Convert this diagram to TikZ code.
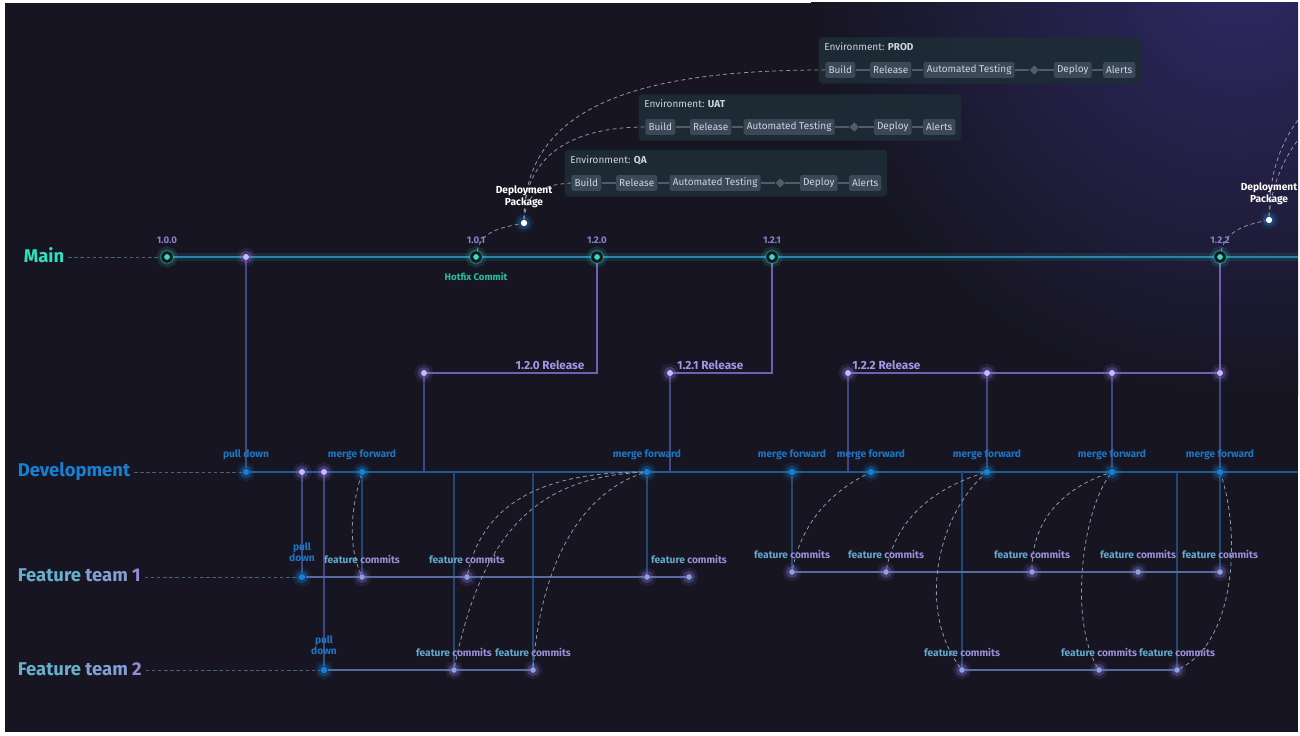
\documentclass[tikz,border=0pt]{standalone}
\usepackage{fontspec}
\setmainfont{Fira Sans}
\usetikzlibrary{positioning,calc,fit,backgrounds,shapes.geometric}

\definecolor{bgdark}{RGB}{22,21,33}
\definecolor{glowpurple}{RGB}{46,41,100}
\definecolor{mainteal}{RGB}{46,224,192}
\definecolor{mainline}{RGB}{38,134,168}
\definecolor{verpurple}{RGB}{140,130,205}
\definecolor{relpurple}{RGB}{112,96,178}
\definecolor{reldotglow}{RGB}{140,115,225}
\definecolor{relcore}{RGB}{200,185,255}
\definecolor{rellabel}{RGB}{165,150,232}
\definecolor{relstem}{RGB}{62,72,132}
\definecolor{devblue}{RGB}{24,128,212}
\definecolor{devline}{RGB}{28,92,150}
\definecolor{devstem}{RGB}{34,72,118}
\definecolor{mfblue}{RGB}{28,118,198}
\definecolor{ftline}{RGB}{84,108,160}
\definecolor{ftcore}{RGB}{135,165,220}
\definecolor{fcteal}{RGB}{100,170,205}
\definecolor{fclav}{RGB}{150,145,215}
\definecolor{fnteal}{RGB}{105,175,205}
\definecolor{fnmid}{RGB}{130,160,215}
\definecolor{fnlav}{RGB}{150,140,215}
\definecolor{leader}{RGB}{70,98,125}
\definecolor{dashgray}{RGB}{150,150,168}
\definecolor{envfill}{RGB}{30,44,54}
\definecolor{stepfill}{RGB}{58,72,88}
\definecolor{steptext}{RGB}{205,212,222}
\definecolor{steplink}{RGB}{78,92,108}

\newcommand{\ftname}[1]{{\color{fnteal}Feature} {\color{fnmid}team} {\color{fnlav}#1}}
\newcommand{\featcom}{{\color{fcteal}feature} {\color{fclav}commits}}

\begin{document}
\begin{tikzpicture}[x=0.02cm, y=-0.02cm,
    halo/.style={preaction={draw=#1, line width=7pt, draw opacity=.12},
                 preaction={draw=#1, line width=3.5pt, draw opacity=.3}},
    maindot/.style={circle, inner sep=0pt, minimum size=5pt, fill=mainteal,
                    draw=bgdark, line width=1.5pt, halo=mainteal},
    reldot/.style={circle, inner sep=0pt, minimum size=3.4pt, fill=relcore, halo=reldotglow},
    devdot/.style={circle, inner sep=0pt, minimum size=3.6pt, fill=devblue, halo=devblue},
    ftdot/.style={circle, inner sep=0pt, minimum size=3.2pt, fill=ftcore, halo=reldotglow},
    pkgdot/.style={circle, inner sep=0pt, minimum size=3.6pt, fill=white, halo=devblue},
    branchlbl/.style={font=\fontsize{10.5}{12}\selectfont\bfseries, anchor=west, inner sep=2pt},
    verlbl/.style={font=\fontsize{5.5}{6}\selectfont\bfseries, text=verpurple, inner sep=.5pt},
    rellbl/.style={font=\fontsize{6.7}{8}\selectfont\bfseries, text=rellabel, inner sep=.5pt},
    mflbl/.style={font=\fontsize{5.8}{6.4}\selectfont\bfseries, text=mfblue, inner sep=.5pt, align=center},
    fclbl/.style={font=\fontsize{5.8}{6.4}\selectfont\bfseries, inner sep=.5pt},
    pkglbl/.style={font=\fontsize{5.8}{6.6}\selectfont\bfseries, text=white, align=center, inner sep=.5pt},
    envtitle/.style={font=\fontsize{5.7}{6.5}\selectfont, text=steptext, inner sep=0pt},
    stepbox/.style={font=\fontsize{5.7}{6.5}\selectfont, text=steptext, fill=stepfill,
                    rounded corners=1pt, inner xsep=1.8pt, inner ysep=0pt, minimum height=9pt},
    gate/.style={diamond, fill=steplink, inner sep=0pt, minimum size=5.5pt},
    envbox/.style={fill=envfill, fill opacity=.9, rounded corners=2pt, inner sep=3pt},
    steprule/.style={draw=steplink, line width=1pt},
    mainbranch/.style={draw=mainline, line width=1.6pt,
                       preaction={draw=mainline, line width=4pt, draw opacity=.18}},
    devbranch/.style={draw=devline, line width=1.6pt},
    ftbranch/.style={draw=ftline, line width=1.5pt},
    relbranch/.style={draw=relpurple, line width=1.2pt},
    relvert/.style={draw=relstem, line width=1.1pt},
    devvert/.style={draw=devstem, line width=1.1pt},
    leaderline/.style={draw=leader, line width=.5pt, dash pattern=on 2pt off 1.5pt},
    mergecurve/.style={draw=dashgray, line width=.45pt, dash pattern=on 2.2pt off 1.8pt}
]
\useasboundingbox (0,0) rectangle (1300,736);

% backdrop
\begin{scope}[on background layer]
    \fill[white] (0,0) rectangle (1300,736);
    \fill[bgdark] (5,3) rectangle (1298,732);
    \begin{scope}
        \clip (5,3) rectangle (1298,732);
        \shade[inner color=glowpurple, outer color=bgdark] (1240,-30) circle (430);
    \end{scope}
\end{scope}

% branch names
\node[branchlbl, text=mainteal] (mainlbl) at (20,255) {Main};
\node[branchlbl, text=devblue] (devlbl) at (14,472) {Development};
\node[branchlbl] (ft1lbl) at (14,575) {\ftname{1}};
\node[branchlbl] (ft2lbl) at (14,669.5) {\ftname{2}};

% main
\node[maindot] (m100) at (167,257) {};
\node[reldot] (mpd) at (246,257) {};
\node[maindot] (m101) at (476,257) {};
\node[maindot] (m120) at (597,257) {};
\node[maindot] (m121) at (772,257) {};
\node[maindot] (m122) at (1220,257) {};
\coordinate (mainend) at (1298,257);
\node[verlbl, above=3.5pt of m100] (v100) {1.0.0};
\node[verlbl, above=3.5pt of m101] (v101) {1.0.1};
\node[verlbl, above=3.5pt of m120] (v120) {1.2.0};
\node[verlbl, above=3.5pt of m121] (v121) {1.2.1};
\node[verlbl, above=3.5pt of m122] (v122) {1.2.2};
\node[verlbl, text=mainteal!85!black, below=5pt of m101] (hotfix) {Hotfix Commit};

% deployment packages
\node[pkgdot] (pkg1) at (524,223) {};
\node[pkgdot] (pkg2) at (1269,220) {};
\node[pkglbl, above=6pt of pkg1] (pkg1lbl) {Deployment\\Package};
\node[pkglbl, above=6pt of pkg2] (pkg2lbl) {Deployment\\Package};
\coordinate (exitA) at (1298,120);
\coordinate (exitB) at (1298,140);

% environments
\foreach \e/\envname/\ex/\ey in {qa/QA/565/153, uat/UAT/639/97, prod/PROD/819/40}{
    \node[envtitle, anchor=west] (\e-title) at (\ex+5,\ey+7) {Environment: \textbf{\envname}};
    \node[stepbox, anchor=west] (\e-build) at (\ex+6,\ey+30) {Build};
    \node[stepbox, right=8pt of \e-build] (\e-release) {Release};
    \node[stepbox, right=6.5pt of \e-release] (\e-auto) {Automated Testing};
    \node[gate, right=8pt of \e-auto] (\e-gate) {};
    \node[stepbox, right=8pt of \e-gate] (\e-deploy) {Deploy};
    \node[stepbox, right=6pt of \e-deploy] (\e-alerts) {Alerts};
    \begin{scope}[on background layer]
        \node[envbox, fit=(\e-title)(\e-build)(\e-alerts)] (\e-box) {};
        \draw[steprule] (\e-build) -- (\e-release) -- (\e-auto) -- (\e-gate) -- (\e-deploy) -- (\e-alerts);
    \end{scope}
}

% releases
\node[reldot] (r120) at (424,373) {};
\node[reldot] (r121) at (670,373) {};
\node[reldot] (r122a) at (848,373) {};
\node[reldot] (r122b) at (987,373) {};
\node[reldot] (r122c) at (1112,373) {};
\node[reldot] (r122d) at (1220,373) {};
\coordinate (k120) at (m120 |- r120);
\node[rellbl, above left=1pt and 6.5pt of k120] (t120) {1.2.0 Release};
\node[rellbl, above right=0pt and 2pt of r121] (t121) {1.2.1 Release};
\node[rellbl, above right=0pt and .5pt of r122a] (t122) {1.2.2 Release};

% development
\node[devdot] (dpd) at (246,472) {};
\node[reldot] (dp1) at (302,472) {};
\node[reldot] (dp2) at (324,472) {};
\foreach \n/\px in {dmf362/362, dmf647/647, dmf792/792, dmf871/871, dmf987/987, dmf1113/1112, dmf1220/1220}
    \node[devdot] (\n) at (\px,472) {};
\foreach \n/\px in {dj424/424, dj454/454, dj533/533, dj670/670, dj848/848, dj962/962, dj1176/1177}
    \coordinate (\n) at (\px,472);
\coordinate (devend) at (1298,472);
\node[mflbl, above=4pt of dpd] (dpdlbl) {pull down};
\foreach \n in {dmf362, dmf647, dmf792, dmf871, dmf987, dmf1113, dmf1220}
    \node[mflbl, above=4pt of \n] (\n-lbl) {merge forward};

% feature teams
\node[devdot] (f1pd) at (302,577) {};
\foreach \n/\px in {f1c362/362, f1c467/467, f1c647/647, f1c689/689}
    \node[ftdot] (\n) at (\px,577) {};
\foreach \n/\px in {f1c792/792, f1c886/886, f1c1032/1032, f1c1138/1138, f1c1220/1220}
    \node[ftdot] (\n) at (\px,572) {};
\node[devdot] (f2pd) at (324,670) {};
\foreach \n/\px in {f2c454/454, f2c533/533, f2c962/962, f2c1099/1099, f2c1177/1177}
    \node[ftdot] (\n) at (\px,670) {};
\node[mflbl, above=6pt of f1pd] (f1pdlbl) {pull\\down};
\node[mflbl, above=6pt of f2pd] (f2pdlbl) {pull\\down};
\foreach \n in {f1c362, f1c467, f1c689, f1c792, f1c886, f1c1032, f1c1138, f1c1220, f2c454, f2c533, f2c962, f2c1099, f2c1177}
    \node[fclbl, above=5pt of \n] (\n-lbl) {\featcom};

% connectors
\begin{scope}[on background layer]
    \draw[leaderline] (mainlbl.east |- m100) -- (m100);
    \draw[mainbranch] (m100) -- (mpd) -- (m101) -- (m120) -- (m121) -- (m122) -- (mainend);
    \draw[relvert] (mpd) -- (dpd);

    \draw[relbranch] (m120) |- (r120);
    \draw[relbranch] (m121) |- (r121);
    \draw[relbranch] (m122) -- (r122d);
    \draw[relbranch] (r122a) -- (r122b) -- (r122c) -- (r122d);
    \draw[relvert] (r120) -- (dj424);
    \draw[relvert] (r121) -- (dj670);
    \draw[relvert] (r122a) -- (dj848);
    \draw[relvert] (r122b) -- (dmf987);
    \draw[relvert] (r122c) -- (dmf1113);
    \draw[relvert] (r122d) -- (dmf1220);

    \draw[leaderline] (devlbl.east |- dpd) -- (dpd);
    \draw[devbranch] (dpd) -- (devend);
    \draw[relvert] (dp1) -- (f1pd);
    \draw[relvert] (dp2) -- (f2pd);
    \draw[devvert] (dmf362) -- (f1c362);
    \draw[devvert] (dj454) -- (f2c454);
    \draw[devvert] (dj533) -- (f2c533);
    \draw[devvert] (dmf647) -- (f1c647);
    \draw[devvert] (dmf792) -- (f1c792);
    \draw[devvert] (dj962) -- (f2c962);
    \draw[devvert] (dj1176) -- (f2c1177);
    \draw[devvert] (dmf1220) -- (f1c1220);

    \draw[leaderline] (ft1lbl.east |- f1pd) -- (f1pd);
    \draw[ftbranch] (f1pd) -- (f1c362) -- (f1c467) -- (f1c647) -- (f1c689);
    \draw[ftbranch] (f1c792) -- (f1c886) -- (f1c1032) -- (f1c1138) -- (f1c1220);
    \draw[leaderline] (ft2lbl.east |- f2pd) -- (f2pd);
    \draw[ftbranch] (f2pd) -- (f2c454) -- (f2c533);
    \draw[ftbranch] (f2c962) -- (f2c1099) -- (f2c1177);

    % merges
    \draw[mergecurve] (f1c362) .. controls +(-15,-35) and +(-10,35) .. (dmf362);
    \draw[mergecurve] (f1c467) .. controls +(15,-70) and +(-110,0) .. (dmf647);
    \draw[mergecurve] (f2c454) .. controls +(30,-150) and +(-100,5) .. (dmf647);
    \draw[mergecurve] (f2c533) .. controls +(10,-130) and +(-50,15) .. (dmf647);
    \draw[mergecurve] (f1c792) .. controls +(10,-50) and +(-40,20) .. (dmf871);
    \draw[mergecurve] (f1c886) .. controls +(10,-55) and +(-50,15) .. (dmf987);
    \draw[mergecurve] (f2c962) .. controls +(-45,-60) and +(-50,45) .. (dmf987);
    \draw[mergecurve] (f1c1032) .. controls +(0,-55) and +(-45,15) .. (dmf1113);
    \draw[mergecurve] (f2c1099) .. controls +(-30,-50) and +(-30,40) .. (dmf1113);
    \draw[mergecurve] (f2c1177) .. controls +(60,-30) and +(20,60) .. (dmf1220);

    % deployments
    \draw[mergecurve] (m101) .. controls +(5,-25) and +(-25,5) .. (pkg1);
    \draw[mergecurve] (pkg1) .. controls +(2,-30) and +(-30,2) .. (qa-build.west);
    \draw[mergecurve] (pkg1) .. controls +(0,-70) and +(-70,0) .. (uat-build.west);
    \draw[mergecurve] (pkg1) .. controls +(0,-120) and +(-180,0) .. (prod-build.west);
    \draw[mergecurve] (m122) .. controls +(5,-25) and +(-25,5) .. (pkg2);
    \draw[mergecurve] (pkg2) .. controls +(0,-50) and +(-15,20) .. (exitA);
    \draw[mergecurve] (pkg2) .. controls +(2,-35) and +(-12,15) .. (exitB);
\end{scope}
\end{tikzpicture}
\end{document}
